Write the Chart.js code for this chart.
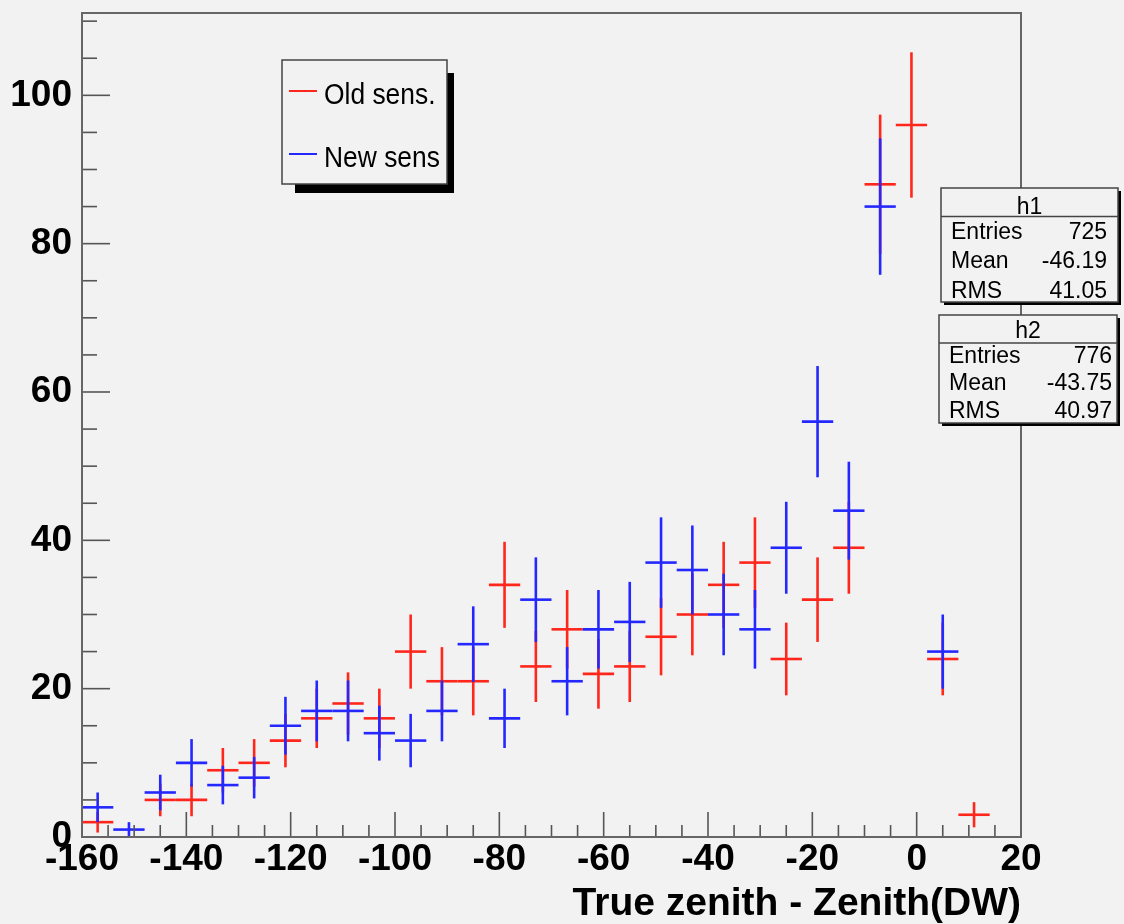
<!DOCTYPE html>
<html>
<head>
<meta charset="utf-8">
<script src="https://cdn.jsdelivr.net/npm/chart.js@4.4.1/dist/chart.umd.min.js"></script>
<style>
  html, body { margin: 0; padding: 0; background: #f2f2f2; }
  #wrap { width: 1124px; height: 924px; position: relative; }
</style>
</head>
<body>
<div id="wrap"><canvas id="histChart"></canvas></div>
<script>
// bins of 6 deg from -160 to 20
const binCenters = [-157, -151, -145, -139, -133, -127, -121, -115, -109, -103,
                    -97, -91, -85, -79, -73, -67, -61, -55, -49, -43,
                    -37, -31, -25, -19, -13, -7, -1, 5, 11, 17];
const binWidth = 6;

const oldSens = [2, 0, 5, 5, 9, 10, 13, 16, 18, 16,
                 25, 21, 21, 34, 23, 28, 22, 23, 27, 30,
                 34, 37, 24, 32, 39, 88, 96, 24, 3, 0];
const oldSensErr = [1.4, 0, 2.2, 2.2, 3, 3.2, 3.6, 4, 4.2, 4,
                    5, 4.6, 4.6, 5.8, 4.8, 5.3, 4.7, 4.8, 5.2, 5.5,
                    5.8, 6.1, 4.9, 5.7, 6.2, 9.4, 9.8, 4.9, 1.7, 0];
const newSens = [4, 1, 6, 10, 7, 8, 15, 17, 17, 14,
                 13, 17, 26, 16, 32, 21, 28, 29, 37, 36,
                 30, 28, 39, 56, 44, 85, 115, 25, 0, 0];
const newSensErr = [2, 1, 2.4, 3.2, 2.6, 2.8, 3.9, 4.1, 4.1, 3.7,
                    3.6, 4.1, 5.1, 4, 5.7, 4.6, 5.3, 5.4, 6.1, 6,
                    5.5, 5.3, 6.2, 7.5, 6.6, 9.2, 10.7, 5, 0, 0];

const xMin = -160, xMax = 20;
const yMin = 0, yMax = 111.1;

const legendLabels = ["Old sens.", "New sens"];
const h1Stats = [["Entries", "725"], ["Mean", "-46.19"], ["RMS", "41.05"]];
const h2Stats = [["Entries", "776"], ["Mean", "-43.75"], ["RMS", "40.97"]];
const xTitle = "True zenith - Zenith(DW)";

const RED = "rgb(255, 38, 28)";
const BLUE = "rgb(36, 40, 255)";
const BG = "#f2f2f2";
const FONT = "'Liberation Sans', Arial, Helvetica, sans-serif";

const errors = [oldSensErr, newSensErr];

function line(ctx, x1, y1, x2, y2) {
    ctx.beginPath();
    ctx.moveTo(x1, y1);
    ctx.lineTo(x2, y2);
    ctx.stroke();
}

// text squeezed horizontally, like the narrow Helvetica of the original
function narrowText(ctx, text, x, y, sx) {
    ctx.save();
    ctx.translate(x, y);
    ctx.scale(sx, 1);
    ctx.fillText(text, 0, 0);
    ctx.restore();
}

function drawStats(ctx, x, y, w, h, sep, title, rows, baselines, valueRight) {
    ctx.fillStyle = "#000";
    ctx.fillRect(x + 3, y + 3, w, h);
    ctx.fillStyle = BG;
    ctx.fillRect(x, y, w, h);
    ctx.strokeStyle = "#444";
    ctx.lineWidth = 1.5;
    ctx.strokeRect(x, y, w, h);
    line(ctx, x, y + sep, x + w, y + sep);

    ctx.fillStyle = "#000";
    ctx.font = "23px " + FONT;
    ctx.textBaseline = "alphabetic";
    ctx.textAlign = "center";
    ctx.fillText(title, x + w / 2, baselines[0]);
    rows.forEach((r, i) => {
        ctx.textAlign = "left";
        ctx.fillText(r[0], x + 10, baselines[i + 1]);
        ctx.textAlign = "right";
        ctx.fillText(r[1], valueRight, baselines[i + 1]);
    });
}

const rootStyle = {
    id: "rootStyle",
    afterDatasetsDraw(chart) {
        const ctx = chart.ctx;
        const area = chart.chartArea;
        const xs = chart.scales.x;
        const ys = chart.scales.y;

        // histogram crosses (bin width + error bar)
        ctx.save();
        ctx.beginPath();
        ctx.rect(area.left, area.top, area.right - area.left, area.bottom - area.top);
        ctx.clip();
        ctx.lineWidth = 2.6;
        ctx.lineCap = "butt";
        chart.data.datasets.forEach((ds, i) => {
            const meta = chart.getDatasetMeta(i);
            ctx.strokeStyle = ds.borderColor;
            ds.data.forEach((p, j) => {
                if (p.y <= 0 || p.y > yMax) return;
                const el = meta.data[j];
                const xl = xs.getPixelForValue(p.x - binWidth / 2);
                const xr = xs.getPixelForValue(p.x + binWidth / 2);
                const yt = ys.getPixelForValue(Math.min(p.y + errors[i][j], yMax));
                const yb = ys.getPixelForValue(Math.max(p.y - errors[i][j], 0));
                line(ctx, xl, el.y, xr, el.y);
                line(ctx, el.x, yt, el.x, yb);
            });
        });
        ctx.restore();

        // ticks inside the frame
        ctx.save();
        ctx.strokeStyle = "#555";
        ctx.lineWidth = 1.6;
        for (let v = xMin; v <= xMax; v += 5) {
            const px = xs.getPixelForValue(v);
            const len = v % 20 === 0 ? 25 : 12;
            line(ctx, px, area.bottom, px, area.bottom - len);
        }
        for (let v = yMin; v <= yMax; v += 5) {
            const py = ys.getPixelForValue(v);
            const len = v % 20 === 0 ? 28 : 15;
            line(ctx, area.left, py, area.left + len, py);
        }
        // frame
        ctx.strokeStyle = "#666";
        ctx.lineWidth = 2;
        ctx.strokeRect(area.left, area.top, area.right - area.left, area.bottom - area.top);

        // axis title
        ctx.fillStyle = "#000";
        ctx.font = "bold 39px " + FONT;
        ctx.textAlign = "right";
        ctx.textBaseline = "alphabetic";
        ctx.fillText(xTitle, area.right, 915);

        // legend
        ctx.fillStyle = "#000";
        ctx.fillRect(295, 73, 159, 120);
        ctx.fillStyle = BG;
        ctx.fillRect(282, 60, 165, 124);
        ctx.strokeStyle = "#444";
        ctx.lineWidth = 1.5;
        ctx.strokeRect(282, 60, 165, 124);
        ctx.font = "30px " + FONT;
        ctx.textAlign = "left";
        ctx.textBaseline = "alphabetic";
        const legY = [91, 154];
        chart.data.datasets.forEach((ds, i) => {
            ctx.strokeStyle = ds.borderColor;
            ctx.lineWidth = 2;
            line(ctx, 289, legY[i], 317, legY[i]);
            ctx.fillStyle = "#000";
            narrowText(ctx, legendLabels[i], 324, legY[i] + 13, 0.88);
        });

        // stat boxes
        drawStats(ctx, 941, 188, 177, 114, 28.5, "h1", h1Stats, [214, 239, 268, 298], 1107);
        drawStats(ctx, 939, 315, 178, 108, 28, "h2", h2Stats, [338, 363, 390, 418], 1112);
        ctx.restore();
    }
};

new Chart(document.getElementById("histChart"), {
    type: "scatter",
    data: {
        datasets: [
            {
                label: legendLabels[0],
                data: binCenters.map((c, i) => ({ x: c, y: oldSens[i] })),
                borderColor: RED,
                backgroundColor: RED,
                pointRadius: 0,
                showLine: false,
            },
            {
                label: legendLabels[1],
                data: binCenters.map((c, i) => ({ x: c, y: newSens[i] })),
                borderColor: BLUE,
                backgroundColor: BLUE,
                pointRadius: 0,
                showLine: false,
            },
        ],
    },
    options: {
        responsive: true,
        maintainAspectRatio: false,
        animation: false,
        events: [],
        layout: { padding: { top: 13, right: 103, left: 0, bottom: 0 } },
        plugins: {
            legend: { display: false },
            tooltip: { enabled: false },
        },
        scales: {
            x: {
                type: "linear",
                min: xMin,
                max: xMax,
                grid: { display: false, drawTicks: false },
                border: { display: false },
                ticks: {
                    stepSize: 20,
                    includeBounds: false,
                    maxRotation: 0,
                    autoSkip: false,
                    padding: 1,
                    color: "#000",
                    font: { family: FONT, size: 37, weight: "bold" },
                },
                afterFit(scale) {
                    scale.height = 87;
                    scale.paddingLeft = 0;
                    scale.paddingRight = 0;
                },
            },
            y: {
                type: "linear",
                min: yMin,
                max: yMax,
                grid: { display: false, drawTicks: false },
                border: { display: false },
                ticks: {
                    stepSize: 20,
                    includeBounds: false,
                    autoSkip: false,
                    padding: 10,
                    color: "#000",
                    font: { family: FONT, size: 37, weight: "bold" },
                },
                afterFit(scale) {
                    scale.width = 82;
                    scale.paddingTop = 0;
                    scale.paddingBottom = 0;
                },
            },
        },
    },
    plugins: [rootStyle],
});
</script>
</body>
</html>
